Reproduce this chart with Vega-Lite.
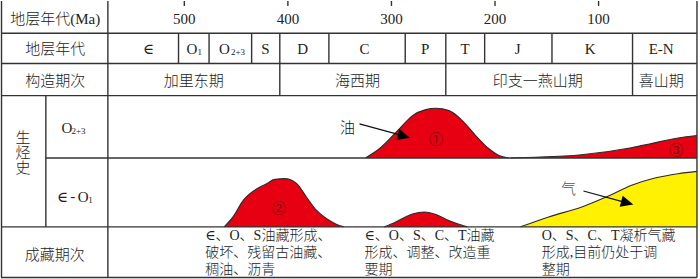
{
  "$schema": "https://vega.github.io/schema/vega-lite/v6.json",
  "width": 700,
  "height": 279,
  "autosize": {"type": "fit", "contains": "padding"},
  "padding": 0,
  "background": "white",
  "config": {"view": {"stroke": null}},
  "datasets": {
    "grid": [
      {"x": 677, "xe": 5, "y": 32.3, "ye": 32.3},
      {"x": 677, "xe": 5, "y": 62.7, "ye": 62.7},
      {"x": 677, "xe": 5, "y": 95, "ye": 95},
      {"x": 633.7, "xe": 5, "y": 157.5, "ye": 157.5},
      {"x": 677, "xe": 5, "y": 226.7, "ye": 226.7},
      {"x": 677, "xe": 5, "y": 277.5, "ye": 277.5},
      {"x": 676.5, "xe": 676.5, "y": 0, "ye": 277.5},
      {"x": 5, "xe": 5, "y": 0, "ye": 277.5},
      {"x": 573.8, "xe": 573.8, "y": 0, "ye": 277.5},
      {"x": 633.7, "xe": 633.7, "y": 95, "ye": 226.7},
      {"x": 505.6, "xe": 505.6, "y": 32.3, "ye": 62.7},
      {"x": 476.1, "xe": 476.1, "y": 32.3, "ye": 62.7},
      {"x": 435.0, "xe": 435.0, "y": 32.3, "ye": 62.7},
      {"x": 407.8, "xe": 407.8, "y": 32.3, "ye": 95},
      {"x": 360.4, "xe": 360.4, "y": 32.3, "ye": 62.7},
      {"x": 286.7, "xe": 286.7, "y": 32.3, "ye": 62.7},
      {"x": 247.5, "xe": 247.5, "y": 32.3, "ye": 95},
      {"x": 210.0, "xe": 210.0, "y": 32.3, "ye": 62.7},
      {"x": 145.0, "xe": 145.0, "y": 32.3, "ye": 62.7},
      {"x": 67.2, "xe": 67.2, "y": 32.3, "ye": 95},
      {"x": 500, "xe": 500, "y": 0, "ye": 5},
      {"x": 400, "xe": 400, "y": 0, "ye": 5},
      {"x": 300, "xe": 300, "y": 0, "ye": 5},
      {"x": 200, "xe": 200, "y": 0, "ye": 5},
      {"x": 100, "xe": 100, "y": 0, "ye": 5}
    ],
    "curves": [
      {"id": "c1", "fluid": "油", "x": 325.1, "y": 157.5, "b": 157.5},
      {"id": "c1", "fluid": "油", "x": 311.7, "y": 148.3, "b": 157.5},
      {"id": "c1", "fluid": "油", "x": 292.4, "y": 128.3, "b": 157.5},
      {"id": "c1", "fluid": "油", "x": 279.6, "y": 115, "b": 157.5},
      {"id": "c1", "fluid": "油", "x": 266.8, "y": 109, "b": 157.5},
      {"id": "c1", "fluid": "油", "x": 257.1, "y": 107.7, "b": 157.5},
      {"id": "c1", "fluid": "油", "x": 244.4, "y": 110, "b": 157.5},
      {"id": "c1", "fluid": "油", "x": 231.6, "y": 120, "b": 157.5},
      {"id": "c1", "fluid": "油", "x": 218.7, "y": 135, "b": 157.5},
      {"id": "c1", "fluid": "油", "x": 205.9, "y": 148.3, "b": 157.5},
      {"id": "c1", "fluid": "油", "x": 196.3, "y": 155, "b": 157.5},
      {"id": "c1", "fluid": "油", "x": 186.7, "y": 157.5, "b": 157.5},
      {"id": "c3", "fluid": "油", "x": 184.8, "y": 157.5, "b": 157.5},
      {"id": "c3", "fluid": "油", "x": 161.0, "y": 156.8, "b": 157.5},
      {"id": "c3", "fluid": "油", "x": 116.5, "y": 154.3, "b": 157.5},
      {"id": "c3", "fluid": "油", "x": 68.4, "y": 147.3, "b": 157.5},
      {"id": "c3", "fluid": "油", "x": 52.1, "y": 143.8, "b": 157.5},
      {"id": "c3", "fluid": "油", "x": 35.7, "y": 140, "b": 157.5},
      {"id": "c3", "fluid": "油", "x": 23.2, "y": 137.5, "b": 157.5},
      {"id": "c3", "fluid": "油", "x": 5, "y": 135, "b": 157.5},
      {"id": "c2", "fluid": "油", "x": 461.6, "y": 226.7, "b": 226.7},
      {"id": "c2", "fluid": "油", "x": 453.0, "y": 216.7, "b": 226.7},
      {"id": "c2", "fluid": "油", "x": 443.1, "y": 200, "b": 226.7},
      {"id": "c2", "fluid": "油", "x": 436.6, "y": 193.3, "b": 226.7},
      {"id": "c2", "fluid": "油", "x": 420.6, "y": 183.3, "b": 226.7},
      {"id": "c2", "fluid": "油", "x": 412.6, "y": 179, "b": 226.7},
      {"id": "c2", "fluid": "油", "x": 403.0, "y": 178.3, "b": 226.7},
      {"id": "c2", "fluid": "油", "x": 391.7, "y": 183, "b": 226.7},
      {"id": "c2", "fluid": "油", "x": 382.1, "y": 196.7, "b": 226.7},
      {"id": "c2", "fluid": "油", "x": 372.5, "y": 210, "b": 226.7},
      {"id": "c2", "fluid": "油", "x": 362.9, "y": 218.3, "b": 226.7},
      {"id": "c2", "fluid": "油", "x": 353.3, "y": 224, "b": 226.7},
      {"id": "c2", "fluid": "油", "x": 346.3, "y": 226.7, "b": 226.7},
      {"id": "c4", "fluid": "油", "x": 306.9, "y": 226.7, "b": 226.7},
      {"id": "c4", "fluid": "油", "x": 297.2, "y": 222.5, "b": 226.7},
      {"id": "c4", "fluid": "油", "x": 289.3, "y": 218.3, "b": 226.7},
      {"id": "c4", "fluid": "油", "x": 279.0, "y": 213.5, "b": 226.7},
      {"id": "c4", "fluid": "油", "x": 268.4, "y": 211.7, "b": 226.7},
      {"id": "c4", "fluid": "油", "x": 257.8, "y": 214, "b": 226.7},
      {"id": "c4", "fluid": "油", "x": 247.5, "y": 219, "b": 226.7},
      {"id": "c4", "fluid": "油", "x": 237.6, "y": 223, "b": 226.7},
      {"id": "c4", "fluid": "油", "x": 226.8, "y": 226.7, "b": 226.7},
      {"id": "c5", "fluid": "气", "x": 175.4, "y": 226.7, "b": 226.7},
      {"id": "c5", "fluid": "气", "x": 148.2, "y": 216.7, "b": 226.7},
      {"id": "c5", "fluid": "气", "x": 116.2, "y": 206.7, "b": 226.7},
      {"id": "c5", "fluid": "气", "x": 90.5, "y": 195.7, "b": 226.7},
      {"id": "c5", "fluid": "气", "x": 68.1, "y": 185, "b": 226.7},
      {"id": "c5", "fluid": "气", "x": 45.6, "y": 177.7, "b": 226.7},
      {"id": "c5", "fluid": "气", "x": 23.2, "y": 173.3, "b": 226.7},
      {"id": "c5", "fluid": "气", "x": 5, "y": 171, "b": 226.7}
    ],
    "arrows": [
      {"x": 330.9, "y": 123.3, "xe": 290.0, "ye": 134.8},
      {"x": 114.6, "y": 190.7, "xe": 77.0, "ye": 201.4}
    ],
    "heads": [
      {"x": 282.1, "y": 137.3},
      {"x": 66.5, "y": 204.3}
    ],
    "labels": [
      {"k": "head", "x": 624.6, "y": 18, "t": "地层年代(Ma)"},
      {"k": "head", "x": 624.6, "y": 48.5, "t": "地层年代"},
      {"k": "head", "x": 624.6, "y": 80.5, "t": "构造期次"},
      {"k": "head", "x": 625.1, "y": 255, "t": "成藏期次"},
      {"k": "head", "x": 655.8, "y": 137.5, "t": "生"},
      {"k": "head", "x": 655.8, "y": 153, "t": "烃"},
      {"k": "head", "x": 655.8, "y": 167.5, "t": "史"},
      {"k": "head", "x": 490.8, "y": 80.5, "t": "加里东期"},
      {"k": "head", "x": 332.8, "y": 80.5, "t": "海西期"},
      {"k": "head", "x": 158.8, "y": 80.5, "t": "印支一燕山期"},
      {"k": "head", "x": 39.6, "y": 80.5, "t": "喜山期"},
      {"k": "serif", "x": 500, "y": 18, "t": "500"},
      {"k": "serif", "x": 400, "y": 18, "t": "400"},
      {"k": "serif", "x": 300, "y": 18, "t": "300"},
      {"k": "serif", "x": 200, "y": 18, "t": "200"},
      {"k": "serif", "x": 100, "y": 18, "t": "100"},
      {"k": "serif", "x": 534.7, "y": 48, "t": "∈"},
      {"k": "serif", "x": 492.7, "y": 48, "t": "O"},
      {"k": "serif", "x": 461.2, "y": 48, "t": "O"},
      {"k": "serif", "x": 421.6, "y": 48, "t": "S"},
      {"k": "serif", "x": 385.7, "y": 48, "t": "D"},
      {"k": "serif", "x": 326.1, "y": 48, "t": "C"},
      {"k": "serif", "x": 267.4, "y": 48, "t": "P"},
      {"k": "serif", "x": 229.0, "y": 48, "t": "T"},
      {"k": "serif", "x": 178.0, "y": 48, "t": "J"},
      {"k": "serif", "x": 108.1, "y": 48, "t": "K"},
      {"k": "serif", "x": 39.6, "y": 48, "t": "E-N"},
      {"k": "serif", "x": 613.3, "y": 127.3, "t": "O"},
      {"k": "serif", "x": 617.7, "y": 196.7, "t": "∈"},
      {"k": "serif", "x": 607.8, "y": 196.2, "t": "-"},
      {"k": "serif", "x": 597.7, "y": 196.7, "t": "O"},
      {"k": "sub", "x": 485.2, "y": 51.5, "t": "1"},
      {"k": "sub", "x": 448.2, "y": 51.5, "t": "2+3"},
      {"k": "sub", "x": 602.2, "y": 130, "t": "2+3"},
      {"k": "sub", "x": 590.5, "y": 200, "t": "1"},
      {"k": "desc", "x": 479.9, "y": 229, "t": "∈、O、S油藏形成、\n破坏、残留古油藏、\n稠油、沥青"},
      {"k": "desc", "x": 326.1, "y": 229, "t": "∈、O、S、C、T油藏\n形成、调整、改造重\n要期"},
      {"k": "desc", "x": 154.9, "y": 229, "t": "O、S、C、T凝析气藏\n形成,目前仍处于调\n整期"},
      {"k": "oil", "x": 342.4, "y": 127, "t": "油"},
      {"k": "gas", "x": 129.0, "y": 188.3, "t": "气"},
      {"k": "num", "x": 256.9, "y": 140, "t": "①"},
      {"k": "num", "x": 408.8, "y": 209, "t": "②"},
      {"k": "num", "x": 24.9, "y": 151, "t": "③"}
    ]
  },
  "encoding": {
    "x": {"field": "x", "type": "quantitative", "scale": {"domain": [677, 4], "nice": false, "zero": false}, "axis": null},
    "y": {"field": "y", "type": "quantitative", "scale": {"domain": [0, 279], "reverse": true, "nice": false, "zero": false}, "axis": null}
  },
  "layer": [
    {
      "data": {"name": "curves"},
      "mark": {"type": "area", "interpolate": "monotone", "opacity": 1},
      "encoding": {
        "y2": {"field": "b"},
        "color": {"field": "fluid", "type": "nominal", "scale": {"domain": ["油", "气"], "range": ["#e60012", "#fff100"]}, "legend": null},
        "detail": {"field": "id"}
      }
    },
    {
      "data": {"name": "curves"},
      "mark": {"type": "line", "interpolate": "monotone", "color": "#2b2b2b", "strokeWidth": 1.1},
      "encoding": {"detail": {"field": "id"}}
    },
    {
      "data": {"name": "grid"},
      "mark": {"type": "rule", "color": "#333333", "strokeWidth": 1.4},
      "encoding": {"x2": {"field": "xe"}, "y2": {"field": "ye"}}
    },
    {
      "data": {"name": "arrows"},
      "mark": {"type": "rule", "color": "#111111", "strokeWidth": 1.2},
      "encoding": {"x2": {"field": "xe"}, "y2": {"field": "ye"}}
    },
    {
      "data": {"name": "heads"},
      "mark": {"type": "point", "shape": "M0,0L-1,-0.45L-1,0.45Z", "size": 625, "filled": true, "color": "#000000", "opacity": 1, "angle": 15.4, "strokeWidth": 0}
    },
    {
      "data": {"name": "labels"},
      "transform": [{"filter": "datum.k == 'head'"}],
      "mark": {"type": "text", "font": "Liberation Serif, Noto Sans CJK SC", "fontSize": 15, "fontWeight": 300, "color": "#222222", "align": "center", "baseline": "middle"},
      "encoding": {"text": {"field": "t"}}
    },
    {
      "data": {"name": "labels"},
      "transform": [{"filter": "datum.k == 'serif'"}],
      "mark": {"type": "text", "font": "Liberation Serif, DejaVu Serif, Noto Sans CJK SC", "fontSize": 15, "color": "#222222", "align": "center", "baseline": "middle"},
      "encoding": {"text": {"field": "t"}}
    },
    {
      "data": {"name": "labels"},
      "transform": [{"filter": "datum.k == 'sub'"}],
      "mark": {"type": "text", "font": "Liberation Serif", "fontSize": 9, "color": "#222222", "align": "center", "baseline": "middle"},
      "encoding": {"text": {"field": "t"}}
    },
    {
      "data": {"name": "labels"},
      "transform": [{"filter": "datum.k == 'desc'"}],
      "mark": {"type": "text", "font": "Liberation Serif, DejaVu Serif, Noto Sans CJK SC", "fontSize": 14, "fontWeight": 300, "lineHeight": 17, "lineBreak": "\n", "color": "#222222", "align": "left", "baseline": "top"},
      "encoding": {"text": {"field": "t"}}
    },
    {
      "data": {"name": "labels"},
      "transform": [{"filter": "datum.k == 'oil'"}],
      "mark": {"type": "text", "font": "Noto Sans CJK SC", "fontSize": 15, "fontWeight": 300, "color": "#111111", "align": "center", "baseline": "middle"},
      "encoding": {"text": {"field": "t"}}
    },
    {
      "data": {"name": "labels"},
      "transform": [{"filter": "datum.k == 'gas'"}],
      "mark": {"type": "text", "font": "Noto Sans CJK SC", "fontSize": 15, "fontWeight": 300, "color": "#555555", "align": "center", "baseline": "middle"},
      "encoding": {"text": {"field": "t"}}
    },
    {
      "data": {"name": "labels"},
      "transform": [{"filter": "datum.k == 'num'"}],
      "mark": {"type": "text", "font": "Noto Sans CJK SC", "fontSize": 14, "color": "#6b0f0f", "align": "center", "baseline": "middle"},
      "encoding": {"text": {"field": "t"}}
    }
  ]
}
